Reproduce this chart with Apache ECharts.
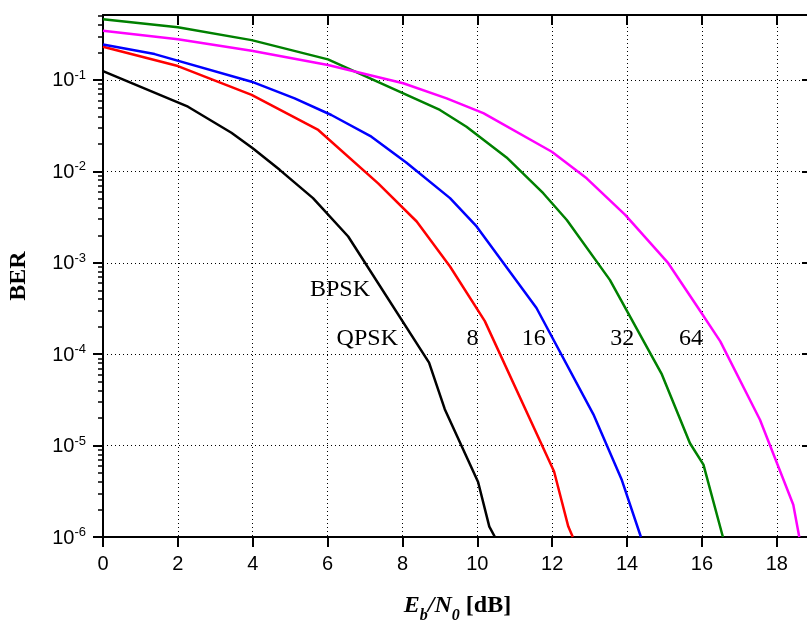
<!DOCTYPE html>
<html>
<head>
<meta charset="utf-8">
<script src="https://cdn.jsdelivr.net/npm/echarts@6/dist/echarts.min.js"></script>
<style>html,body{margin:0;padding:0;background:#fff}#c{width:807px;height:621px}</style>
</head>
<body>
<div id="c"></div>
<script>
// ---- data (Eb/N0 in dB, BER) ----
const bpskX = [0, 2.27, 3.43, 4.0, 4.72, 5.61, 6.55, 8.71, 9.13, 10.02, 10.32, 10.47];
const bpskY = [0.125, 0.051, 0.0265, 0.0179, 0.0104, 0.0051, 0.00194, 8.1e-5, 2.5e-5, 4.0e-6, 1.3e-6, 1e-6];

const psk8X = [0, 2.0, 3.97, 5.75, 7.35, 8.38, 9.27, 10.2, 12.05, 12.43, 12.55];
const psk8Y = [0.231, 0.142, 0.0686, 0.0284, 0.0074, 0.00283, 9.1e-4, 2.3e-4, 5.2e-6, 1.3e-6, 1e-6];

const psk16X = [0, 1.38, 3.97, 5.12, 6.1, 7.17, 8.1, 9.27, 9.98, 11.58, 13.1, 13.86, 14.37];
const psk16Y = [0.245, 0.192, 0.0958, 0.063, 0.0414, 0.024, 0.0125, 0.0051, 0.0025, 3.2e-4, 2.2e-5, 4.2e-6, 1e-6];

const psk32X = [0, 2.0, 3.97, 6.01, 9.0, 9.71, 10.78, 11.76, 12.39, 13.54, 14.93, 15.68, 16.04, 16.56];
const psk32Y = [0.461, 0.377, 0.273, 0.168, 0.047, 0.0308, 0.0142, 0.00577, 0.00294, 6.5e-4, 6.0e-5, 1.06e-5, 6.2e-6, 1e-6];

const psk64X = [0, 2.0, 3.97, 6.01, 8.02, 9.18, 10.16, 11.99, 12.92, 13.95, 15.1, 15.9, 16.49, 17.55, 18.44, 18.6];
const psk64Y = [0.346, 0.279, 0.209, 0.146, 0.092, 0.063, 0.0433, 0.0164, 0.0084, 0.00334, 9.9e-4, 3.2e-4, 1.38e-4, 1.92e-5, 2.25e-6, 1e-6];

// annotation texts and their positions in data space
const annText = ['BPSK', 'QPSK', '8', '16', '32', '64'];
const annX = [6.33, 7.06, 9.87, 11.51, 13.87, 15.71];
const annY = [5.1e-4, 1.47e-4, 1.47e-4, 1.47e-4, 1.47e-4, 1.47e-4];

// axis ticks
const xTicks = [0, 2, 4, 6, 8, 10, 12, 14, 16, 18];
const yMajor = [1e-6, 1e-5, 1e-4, 1e-3, 1e-2, 1e-1];
const yMinorMult = [2, 3, 4, 5, 6, 7, 8, 9];

const yMinor = [];
for (let e = -6; e <= -1; e++) {
  yMinorMult.forEach(m => { yMinor.push(+(m * Math.pow(10, e)).toPrecision(3)); });
}

const zip = (xs, ys) => xs.map((x, i) => [x, ys[i]]);

const X_MIN = 0, X_MAX = 18.94, Y_MIN = 1e-6, Y_MAX = 0.514;
const SANS = 'Liberation Sans';
const SERIF = 'Liberation Serif';

function lineSeries(name, xs, ys, color) {
  return {
    name, type: 'line', data: zip(xs, ys), showSymbol: false, symbol: 'none',
    xAxisIndex: 0, yAxisIndex: 0, clip: true, animation: false,
    lineStyle: { color, width: 2.5, join: 'round' }
  };
}

const chart = echarts.init(document.getElementById('c'), null, { renderer: 'canvas' });
chart.setOption({
  animation: false,
  backgroundColor: '#fff',
  grid: { left: 103, right: -5, top: 15, bottom: 84, containLabel: false, outerBoundsMode: 'none' },
  xAxis: [
    {
      type: 'value', position: 'bottom', min: X_MIN, max: X_MAX, interval: 2,
      axisLine: { onZero: false, lineStyle: { color: '#000', width: 2 } },
      axisTick: { inside: false, length: 10, lineStyle: { color: '#000', width: 2 }, customValues: xTicks },
      axisLabel: { customValues: xTicks, margin: 17, color: '#000', fontFamily: SANS, fontSize: 20 },
      splitLine: { show: true, lineStyle: { color: '#000', width: 1, type: [1, 3] } },
      name: '{e|E}{s|b}{e|/N}{s|0}{n| [dB]}',
      nameLocation: 'middle', nameGap: 57,
      nameTextStyle: {
        rich: {
          e: { fontFamily: SERIF, fontStyle: 'italic', fontWeight: 'bold', fontSize: 24, lineHeight: 30, verticalAlign: 'top', color: '#000' },
          s: { fontFamily: SERIF, fontStyle: 'italic', fontWeight: 'bold', fontSize: 16, lineHeight: 16, verticalAlign: 'bottom', color: '#000' },
          n: { fontFamily: SERIF, fontWeight: 'bold', fontSize: 24, lineHeight: 30, verticalAlign: 'top', color: '#000' }
        }
      }
    },
    {
      type: 'value', position: 'top', min: X_MIN, max: X_MAX, interval: 2,
      axisLine: { onZero: false, lineStyle: { color: '#000', width: 2 } },
      axisTick: { inside: true, length: 10, lineStyle: { color: '#000', width: 2 }, customValues: xTicks },
      axisLabel: { show: false },
      splitLine: { show: false }
    }
  ],
  yAxis: [
    {
      type: 'log', logBase: 10, position: 'left', min: Y_MIN, max: Y_MAX,
      axisLine: { onZero: false, lineStyle: { color: '#000', width: 2 } },
      axisTick: { inside: false, length: 10, lineStyle: { color: '#000', width: 2 }, customValues: yMajor },
      axisLabel: {
        customValues: yMajor, margin: 17, color: '#000',
        formatter: v => '{b|10}{s|' + Math.round(Math.log10(v)) + '}',
        rich: {
          b: { fontFamily: SANS, fontSize: 20, lineHeight: 22, verticalAlign: 'bottom', color: '#000' },
          s: { fontFamily: SANS, fontSize: 13, lineHeight: 16, verticalAlign: 'top', color: '#000' }
        }
      },
      splitLine: { show: true, lineStyle: { color: '#000', width: 1, type: [1, 3] } },
      name: 'BER', nameLocation: 'middle', nameRotate: 90, nameGap: 72,
      nameTextStyle: { fontFamily: SERIF, fontWeight: 'bold', fontSize: 24, color: '#000' }
    },
    {
      type: 'log', logBase: 10, position: 'left', min: Y_MIN, max: Y_MAX,
      axisLine: { show: false, onZero: false },
      axisTick: { inside: false, length: 5, lineStyle: { color: '#000', width: 1.5 }, customValues: yMinor },
      axisLabel: { show: false },
      splitLine: { show: false }
    },
    {
      type: 'log', logBase: 10, position: 'right', min: Y_MIN, max: Y_MAX,
      axisLine: { onZero: false, lineStyle: { color: '#000', width: 2 } },
      axisTick: { inside: true, length: 10, lineStyle: { color: '#000', width: 2 }, customValues: yMajor },
      axisLabel: { show: false },
      splitLine: { show: false }
    },
    {
      type: 'log', logBase: 10, position: 'right', min: Y_MIN, max: Y_MAX,
      axisLine: { show: false, onZero: false },
      axisTick: { inside: true, length: 5, lineStyle: { color: '#000', width: 1.5 }, customValues: yMinor },
      axisLabel: { show: false },
      splitLine: { show: false }
    }
  ],
  series: [
    lineSeries('BPSK', bpskX, bpskY, '#000000'),
    lineSeries('8PSK', psk8X, psk8Y, '#ff0000'),
    lineSeries('16PSK', psk16X, psk16Y, '#0000ff'),
    lineSeries('32PSK', psk32X, psk32Y, '#008000'),
    lineSeries('64PSK', psk64X, psk64Y, '#ff00ff'),
    {
      type: 'scatter', xAxisIndex: 0, yAxisIndex: 0, symbolSize: 0, silent: true,
      itemStyle: { opacity: 1 },
      data: annText.map((t, i) => ({ name: t, value: [annX[i], annY[i]] })),
      label: {
        show: true, position: 'inside', formatter: '{b}', opacity: 1,
        fontFamily: SERIF, fontSize: 24, color: '#000', textBorderWidth: 0
      }
    }
  ]
});
</script>
</body>
</html>
